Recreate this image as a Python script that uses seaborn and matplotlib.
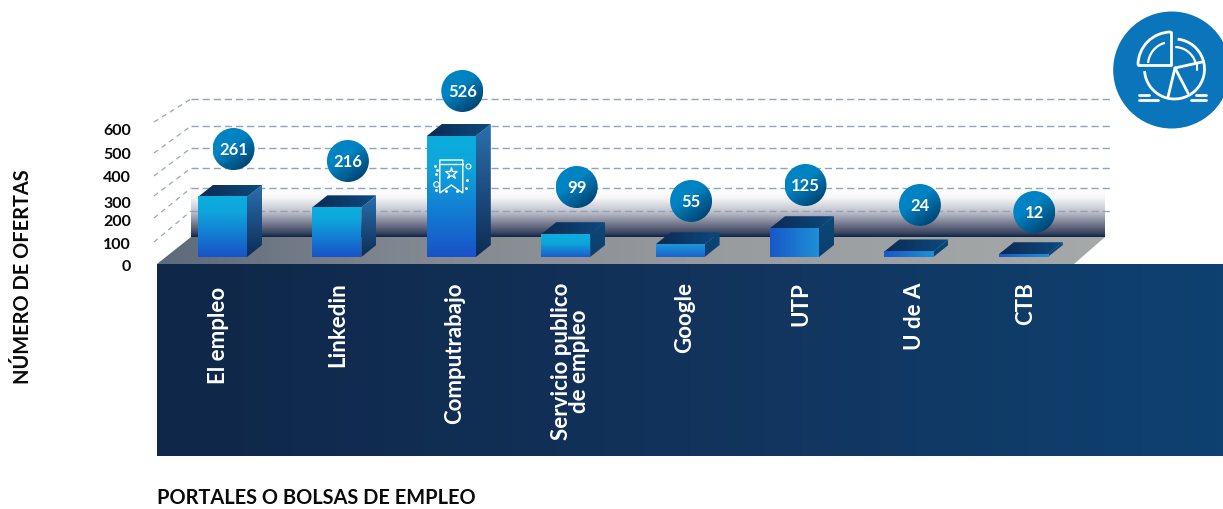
import numpy as np
import pandas as pd
import matplotlib
matplotlib.use("Agg")
import matplotlib.pyplot as plt
import seaborn as sns
from matplotlib.colors import LinearSegmentedColormap as LSC
from matplotlib.patches import Polygon, Ellipse, Circle, Arc
from matplotlib.transforms import ScaledTranslation

# ---- data ----
categories = ["El empleo", "Linkedin", "Computrabajo", "Servicio publico\nde empleo",
              "Google", "UTP", "U de A", "CTB"]
values = [261, 216, 526, 99, 55, 125, 24, 12]
y_tick_labels = ["0", "100", "200", "300", "400", "500", "600"]
y_title = "NÚMERO DE OFERTAS"
x_title = "PORTALES O BOLSAS DE EMPLEO"

# ---- layout (figure pixels) ----
W, H = 1223, 510
SLOT = 114.4
AX_LEFT = 222.5 - SLOT / 2
BASE_Y = 258
PX_PER_UNIT = 0.23
YMAX = 1000
DEPTH_X, DEPTH_Y = 15, 12
tick_label_y = [267, 245, 222, 204, 178, 155, 131]
grid_back_y = [100, 127, 149, 169, 189, 212]
grid_front_y = [123, 154, 177, 197, 219, 243]
bubble_y = [150, 162, 92, 188, 202, 186, 206, 213]
label_shift_x = [-4, 1, 3, 5, 5, 6, 6, 2]
label_shift_y = [5, 0, 0, 0, 0, 0, 0, 0]
horizontal_face = ["UTP", "U de A", "CTB"]
FAM = ["Lato", "DejaVu Sans"]

sns.set_theme(style="white")
plt.rcParams["font.family"] = FAM
plt.rcParams["font.weight"] = "bold"

fig = plt.figure(figsize=(W / 100, H / 100), dpi=100, facecolor="white")

# Backdrop axes in pixel coordinates
px = fig.add_axes([0, 0, 1, 1], zorder=1)
px.set_axis_off()


def grad(axis, colors, extent, clip=None, vertical=True, zorder=1, n=256):
    cm = LSC.from_list("g", colors)
    t = np.linspace(0, 1, n)
    arr = t[:, None] if vertical else t[None, :]
    im = axis.imshow(arr, cmap=cm, extent=extent, aspect="auto", zorder=zorder,
                     origin="upper", interpolation="bilinear", vmin=0, vmax=1)
    if clip is not None:
        im.set_clip_path(clip)
    return im


# back wall
grad(px, [(0, "#ffffff"), (0.2, "#f6f6f8"), (0.5, "#bcbdc9"), (0.75, "#70748a"),
          (0.92, "#394560"), (1, "#0d2345")], (191, 1105, 238, 189), zorder=1)

# dashed guides
GRID = "#8fa3bc"
for yb, yf in zip(grid_back_y, grid_front_y):
    px.plot([191, 1110], [yb, yb], color=GRID, lw=1.0, dashes=(5.2, 2.8), zorder=2)
    px.plot([154, 191], [yf, yb], color="#9aa6b8", lw=0.9, dashes=(4, 3.5), zorder=2)

# floor
floor = Polygon([(157, 265), (191, 238), (1105, 238), (1074, 265)], closed=True,
                fc="none", ec="none", transform=px.transData)
px.add_patch(floor)
grad(px, [(0, "#5d6a7a"), (0.25, "#80868f"), (0.6, "#999c9f"), (1, "#a6a9a9")],
     (157, 1105, 265, 238), clip=floor, vertical=False, zorder=3)

# dark category band
grad(px, ["#0f2748", "#12335c", "#0e4170"], (157, W, 457, 265), vertical=False, zorder=3)

# corner icon
px.add_patch(Circle((1171.7, 71), 58.5, fc="#0b75bc", ec="none", zorder=4))
IC = dict(color="white", lw=2, zorder=5, solid_capstyle="round")
AC = dict(ec="white", lw=2, zorder=5, fc="none")
cx, cy = 1174.5, 70
px.add_patch(Arc((cx, cy), 60, 60, theta1=-84, theta2=176, **AC))
px.add_patch(Arc((cx, cy), 44, 44, theta1=-88, theta2=-18, **dict(AC, lw=1.6)))
px.add_patch(Arc((1171, 66), 66, 66, theta1=180, theta2=270, **AC))
px.add_patch(Arc((1171, 66), 46, 46, theta1=185, theta2=255, **dict(AC, lw=1.6)))
px.plot([1138, 1171, 1171], [66, 66, 33], **IC)
px.plot([1175, 1202], [69, 63], **IC)
px.plot([1175, 1168], [69, 98], **IC)
px.plot([1175, 1188], [69, 94], **IC)
px.plot([1197, 1197], [64, 71], color="white", lw=1.5, zorder=5)
px.plot([1139, 1149], [96, 96], **IC)
px.plot([1139, 1158], [100.5, 100.5], **IC)
px.plot([1196, 1206], [96, 96], **IC)
px.plot([1191, 1206], [100.5, 100.5], **IC)

px.set_xlim(0, W)
px.set_ylim(H, 0)

# axis titles and value ticks
for lab, y in zip(y_tick_labels, tick_label_y):
    px.text(131, y, lab, ha="right", va="center", fontsize=11.5, color="#0a0a0a", zorder=6, fontweight="bold")
px.text(23, 277, y_title, rotation=90, ha="center", va="center", fontsize=14.4, color="#0a0a0a", fontweight="bold")
px.text(157, 498, x_title, ha="left", va="center", fontsize=14.45, color="#0a0a0a", fontweight="bold")

# Chart axes: 8 category slots over the bars
ax = fig.add_axes([AX_LEFT / W, (H - BASE_Y) / H, 8 * SLOT / W, YMAX * PX_PER_UNIT / H], zorder=2)
ax.patch.set_alpha(0)
df = pd.DataFrame({"portal": categories, "ofertas": values})
sns.barplot(data=df, x="portal", y="ofertas", color="#1a7fd0", width=49 / SLOT,
            saturation=1, ax=ax, zorder=3)
bars = list(ax.patches)
dx = DEPTH_X / SLOT
dy = DEPTH_Y / PX_PER_UNIT

for bar, name, val, byp in zip(bars, categories, values, bubble_y):
    x0, w, h = bar.get_x(), bar.get_width(), bar.get_height()
    x1 = x0 + w
    bar.set_facecolor("none")
    bar.set_edgecolor("none")
    tall = val > 150
    # side
    side = Polygon([(x1, 0), (x1 + dx, dy), (x1 + dx, h + dy), (x1, h)], closed=True, fc="none", ec="none")
    ax.add_patch(side)
    side_cols = ["#2b70af", "#0d2c55"] if tall else ["#0c4878", "#0b3f6e"]
    grad(ax, side_cols, (x1, x1 + dx, 0, h + dy), clip=side, zorder=3)
    # top
    top = Polygon([(x0, h), (x0 + dx, h + dy), (x1 + dx, h + dy), (x1, h)], closed=True, fc="none", ec="none")
    ax.add_patch(top)
    grad(ax, ["#0d2a52", "#0c4a80"], (x0, x1 + dx, h, h + dy), clip=top, vertical=False, zorder=3)
    # front
    if name in horizontal_face:
        grad(ax, ["#1957c8", "#1e90d8"], (x0, x1, 0, h), vertical=False, zorder=4)
    elif tall:
        grad(ax, [(0, "#0badde"), (0.25, "#0ea6dc"), (1, "#1852c8")], (x0, x1, 0, h), zorder=4)
    elif val > 80:
        grad(ax, [(0, "#0badde"), (0.4, "#0ea6dc"), (1, "#1a5cca")], (x0, x1, 0, h), zorder=4)
    else:
        grad(ax, ["#1c98da", "#1a62cc"], (x0, x1, 0, h), zorder=4)
    # value bubble
    bx = x0 + w / 2 + 11 / SLOT
    by = (BASE_Y - byp) / PX_PER_UNIT
    el = Ellipse((bx, by), 42 / SLOT, 42 / PX_PER_UNIT, fc="none", ec="none")
    ax.add_patch(el)
    rx, ry = 21 / SLOT, 21 / PX_PER_UNIT
    u, v = np.meshgrid(np.linspace(0, 1, 128), np.linspace(0, 1, 128))
    d = np.clip((u * 0.75 + v * 1.0) / 1.75, 0, 1)
    d = np.clip((d - 0.4) / 0.6, 0, 1)
    im = ax.imshow(d, cmap=LSC.from_list("b", ["#0083c3", "#02335c"]), extent=(bx - rx, bx + rx, by - ry, by + ry),
                   aspect="auto", zorder=6, origin="upper", vmin=0, vmax=1)
    im.set_clip_path(el)
    ax.text(bx, by, str(val), ha="center", va="center", color="white", fontsize=12, zorder=7, fontweight="bold")

# Banner glyph on the tallest bar, placed from that bar's own geometry
b = bars[int(np.argmax(values))]
gx = b.get_x() + b.get_width() / 2
u2x, u2y = 1 / SLOT, 1 / PX_PER_UNIT
gtop = b.get_height() - 24 * u2y


def G(ox, oy):
    return (gx + ox * u2x, gtop - oy * u2y)


ax.add_patch(Polygon([G(-11.5, 0), G(11.5, 0), G(11.5, 33), G(0, 25), G(-11.5, 33)], closed=True,
                     fc="none", ec="white", lw=1, zorder=5))
ax.plot(*zip(G(-11.5, 4), G(11.5, 4)), color="white", lw=1, zorder=5)
ax.plot(*G(0, 13), marker="*", ms=9, mfc="none", mec="white", mew=0.9, zorder=5)
ax.plot(*zip(G(-16, 6), G(-14, 10), G(-15, 14), G(16, 20), G(15, 28), G(6, 31), G(-5, 31), G(-15, 30)),
        ls="none", marker="o", ms=1.1, color="white", zorder=5)
ax.plot(*G(16.5, 6), marker="o", ms=3.5, mfc="none", mec="white", mew=0.8, zorder=5)
ax.plot(*G(-15.5, 23.5), marker="o", ms=4, mfc="none", mec="white", mew=0.8, zorder=5)

ax.set_xlim(-0.5, len(categories) - 0.5)
ax.set_ylim(0, YMAX)
ax.set_xlabel("")
ax.set_ylabel("")
ax.set_yticks([])
sns.despine(ax=ax, left=True, bottom=True)
ax.tick_params(axis="x", length=0, pad=17.5, colors="white")
for t, sx, sy in zip(ax.get_xticklabels(), label_shift_x, label_shift_y):
    t.set_rotation(90)
    t.set_ha("center")
    t.set_va("top")
    t.set_multialignment("center")
    t.set_fontsize(16)
    t.set_fontweight("bold")
    t.set_linespacing(0.85)
    t.set_transform(t.get_transform() + ScaledTranslation(sx / 100, -sy / 100, fig.dpi_scale_trans))

fig.savefig("out.png", dpi=100)
